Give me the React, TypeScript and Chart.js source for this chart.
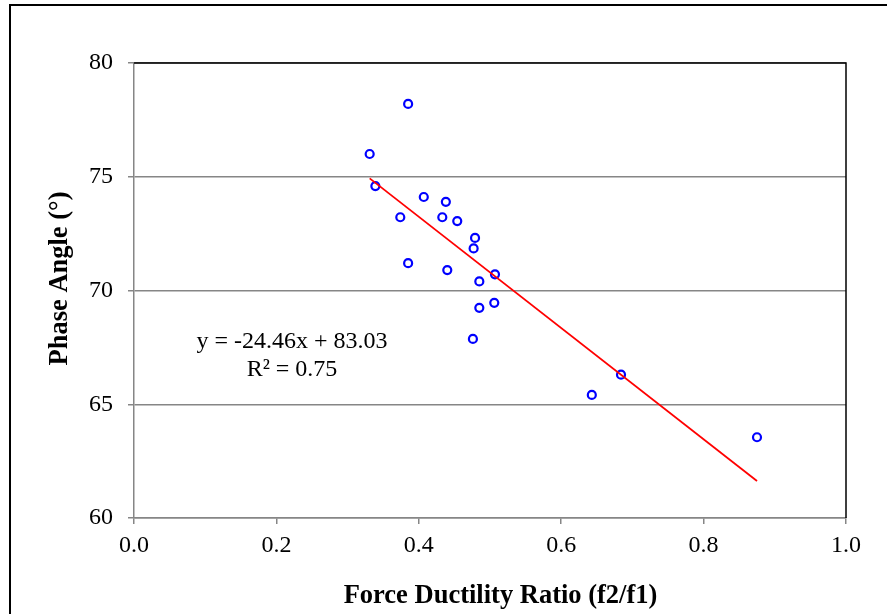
import React, { useEffect, useRef } from "react";
import { Chart, registerables } from "chart.js";

Chart.register(...registerables);

// Measured points: force ductility ratio (x) vs phase angle (y)
const ratioX = [0.385, 0.331, 0.339, 0.407, 0.438, 0.374, 0.433, 0.454, 0.479, 0.477, 0.385, 0.44, 0.507, 0.485, 0.506, 0.485, 0.476, 0.643, 0.684, 0.875];
const phaseY = [78.2, 76.0, 74.59, 74.11, 73.9, 73.22, 73.22, 73.05, 72.31, 71.85, 71.2, 70.9, 70.71, 70.4, 69.46, 69.24, 67.87, 65.41, 66.3, 63.55];

// Linear trend line endpoints
const trendX = [0.331, 0.875];
const trendY = [74.93, 61.63];

const xTicks = [0, 0.2, 0.4, 0.6, 0.8, 1.0];
const yTicks = [60, 65, 70, 75, 80];

const xTitle = "Force Ductility Ratio (f2/f1)";
const yTitle = "Phase Angle (°)";
const eqLine1 = "y = -24.46x + 83.03";
const eqLine2 = "R² = 0.75";

const FONT = '"Liberation Serif", "Times New Roman", serif';

const decorPlugin = {
  id: "decor",
  afterDraw(chart: any) {
    const ctx = chart.ctx as CanvasRenderingContext2D;
    const { left, top, right, bottom } = chart.chartArea;
    ctx.save();
    // plot area top and right border
    ctx.strokeStyle = "#000";
    ctx.lineWidth = 1.5;
    ctx.beginPath();
    ctx.moveTo(left, top);
    ctx.lineTo(right, top);
    ctx.lineTo(right, bottom);
    ctx.stroke();
    // outer frame
    ctx.lineWidth = 2;
    ctx.strokeRect(10, 5, 2000, 2000);

    ctx.fillStyle = "#000";
    // x title
    ctx.font = `bold 26.5px ${FONT}`;
    ctx.textAlign = "center";
    ctx.textBaseline = "alphabetic";
    ctx.fillText(xTitle, 500.5, 603);
    // y title
    ctx.save();
    ctx.translate(66.5, 278.5);
    ctx.rotate(-Math.PI / 2);
    ctx.fillText(yTitle, 0, 0);
    ctx.restore();
    // equation
    ctx.font = `24px ${FONT}`;
    ctx.fillText(eqLine1, 292, 348);
    ctx.fillText(eqLine2, 292, 376);
    ctx.restore();
  },
};

export default function App() {
  const ref = useRef<HTMLCanvasElement | null>(null);
  useEffect(() => {
    document.body.style.margin = "0";
    const canvas = ref.current!;
    const chart = new Chart(canvas, {
      type: "scatter",
      data: {
        datasets: [
          {
            label: "Trend",
            data: trendX.map((x, i) => ({ x, y: trendY[i] })),
            showLine: true,
            borderColor: "#ff0000",
            borderWidth: 1.8,
            pointRadius: 0,
            fill: false,
          },
          {
            label: "Data",
            data: ratioX.map((x, i) => ({ x, y: phaseY[i] })),
            pointRadius: 4,
            pointBorderWidth: 2.2,
            pointBorderColor: "#0000ff",
            pointBackgroundColor: "rgba(0,0,0,0)",
            showLine: false,
          },
        ],
      },
      options: {
        animation: false,
        responsive: false,
        devicePixelRatio: 1,
        layout: { padding: { left: 0, top: 63, right: 41, bottom: 0 } },
        plugins: { legend: { display: false }, tooltip: { enabled: false } },
        scales: {
          x: {
            type: "linear",
            min: 0,
            max: 1,
            afterFit(scale: any) {
              scale.height = 96;
            },
            afterBuildTicks(scale: any) {
              scale.ticks = xTicks.map((v) => ({ value: v }));
            },
            ticks: {
              color: "#000",
              font: { family: FONT, size: 24 },
              padding: 7,
              maxRotation: 0,
              callback: (v: any) => Number(v).toFixed(1),
            },
            grid: {
              drawOnChartArea: false,
              drawTicks: true,
              tickLength: 6,
              color: "#868686",
              lineWidth: 1.5,
            },
            border: { color: "#868686", width: 1.5 },
          },
          y: {
            type: "linear",
            min: 60,
            max: 80,
            afterFit(scale: any) {
              scale.width = 134;
            },
            afterBuildTicks(scale: any) {
              scale.ticks = yTicks.map((v) => ({ value: v }));
            },
            ticks: {
              color: "#000",
              font: { family: FONT, size: 24 },
              padding: 15,
              callback: (v: any) => String(v),
            },
            grid: {
              drawTicks: true,
              tickLength: 6,
              color: "#868686",
              lineWidth: 1.5,
            },
            border: { color: "#868686", width: 1.5 },
          },
        },
      },
      plugins: [decorPlugin],
    });
    return () => chart.destroy();
  }, []);
  return (
    <div style={{ position: "absolute", left: 0, top: 0, width: 887, height: 614, background: "#fff" }}>
      <canvas ref={ref} width={887} height={614} style={{ display: "block", width: 887, height: 614 }} />
    </div>
  );
}
